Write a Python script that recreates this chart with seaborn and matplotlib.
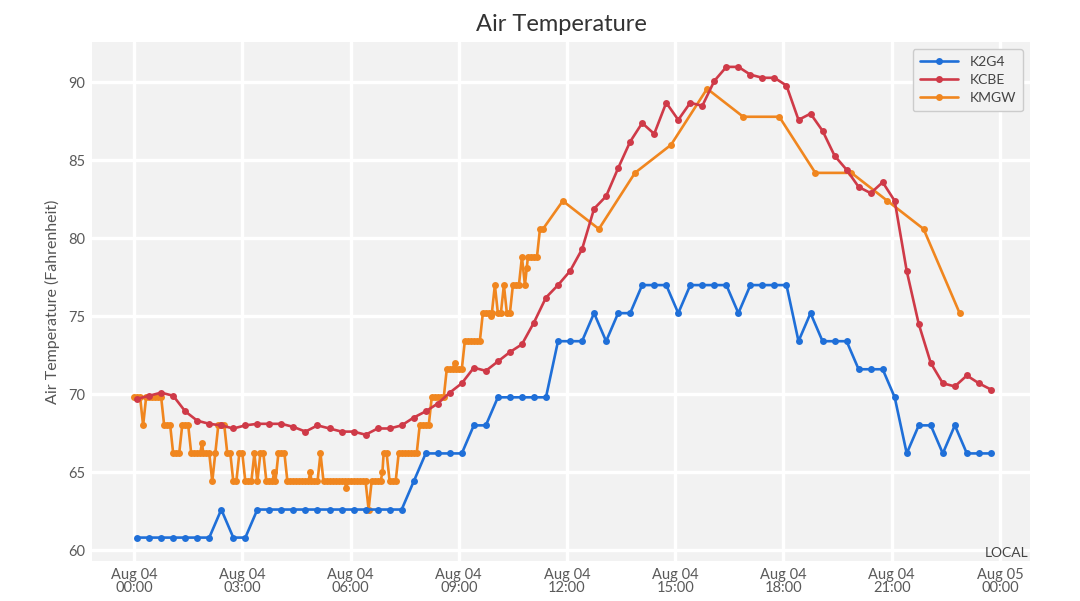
import numpy as np
import pandas as pd
import matplotlib
matplotlib.use("Agg")
import matplotlib.pyplot as plt
import matplotlib.dates as mdates
import seaborn as sns

# ---------------- data ----------------
stations = ["K2G4", "KCBE", "KMGW"]
colors = {"K2G4": "#1f6fd8", "KCBE": "#cf3a48", "KMGW": "#f0861f"}

# K2G4 and KCBE: every 20 minutes from 00:05 to 23:45
k2g4_temps = [
    60.8, 60.8, 60.8, 60.8, 60.8, 60.8, 60.8, 62.6, 60.8, 60.8, 62.6, 62.6,
    62.6, 62.6, 62.6, 62.6, 62.6, 62.6, 62.6, 62.6, 62.6, 62.6, 62.6, 64.4,
    66.2, 66.2, 66.2, 66.2, 68.0, 68.0, 69.8, 69.8, 69.8, 69.8, 69.8, 73.4,
    73.4, 73.4, 75.2, 73.4, 75.2, 75.2, 77.0, 77.0, 77.0, 75.2, 77.0, 77.0,
    77.0, 77.0, 75.2, 77.0, 77.0, 77.0, 77.0, 73.4, 75.2, 73.4, 73.4, 73.4,
    71.6, 71.6, 71.6, 69.8, 66.2, 68.0, 68.0, 66.2, 68.0, 66.2, 66.2, 66.2,
]
kcbe_temps = [
    69.7, 69.9, 70.1, 69.9, 68.9, 68.3, 68.1, 68.0, 67.8, 68.0, 68.1, 68.1,
    68.1, 67.9, 67.6, 68.0, 67.8, 67.6, 67.6, 67.4, 67.8, 67.8, 68.0, 68.5,
    68.9, 69.4, 70.1, 70.7, 71.7, 71.5, 72.1, 72.7, 73.2, 74.6, 76.2, 77.0,
    77.9, 79.3, 81.9, 82.7, 84.5, 86.2, 87.4, 86.7, 88.7, 87.6, 88.7, 88.5,
    90.1, 91.0, 91.0, 90.5, 90.3, 90.3, 89.8, 87.6, 88.0, 86.9, 85.3, 84.4,
    83.3, 82.9, 83.6, 82.4, 77.9, 74.5, 72.0, 70.7, 70.5, 71.2, 70.7, 70.3,
]

# KMGW: 5-minute observations 00:00 - 11:20
kmgw_5min_temps = [
    69.8, 69.8, 69.8, 68.0, 69.8, 69.8, 69.8, 69.8, 69.8, 69.8, 68.0, 68.0,   # 00:00-00:55
    68.0, 66.2, 66.2, 66.2, 68.0, 68.0, 68.0, 66.2, 66.2, 66.2, 66.2, 66.2,   # 01:00-01:55
    66.2, 66.2, 64.4, 66.2, 68.0, 68.0, 68.0, 66.2, 66.2, 64.4, 64.4, 66.2,   # 02:00-02:55
    66.2, 64.4, 64.4, 64.4, 66.2, 64.4, 66.2, 66.2, 64.4, 64.4, 64.4, 64.4,   # 03:00-03:55
    66.2, 66.2, 66.2, 64.4, 64.4, 64.4, 64.4, 64.4, 64.4, 64.4, 64.4, 64.4,   # 04:00-04:55
    64.4, 64.4, 66.2, 64.4, 64.4, 64.4, 64.4, 64.4, 64.4, 64.4, 64.4, 64.4,   # 05:00-05:55
    64.4, 64.4, 64.4, 64.4, 64.4, 64.4, 62.6, 64.4, 64.4, 64.4, 64.4, 66.2,   # 06:00-06:55
    66.2, 64.4, 64.4, 64.4, 66.2, 66.2, 66.2, 66.2, 66.2, 66.2, 66.2, 68.0,   # 07:00-07:55
    68.0, 68.0, 68.0, 69.8, 69.8, 69.8, 69.8, 69.8, 71.6, 71.6, 71.6, 71.6,   # 08:00-08:55
    71.6, 71.6, 73.4, 73.4, 73.4, 73.4, 73.4, 73.4, 75.2, 75.2, 75.2, 75.2,   # 09:00-09:55
    77.0, 75.2, 75.2, 77.0, 75.2, 75.2, 77.0, 77.0, 77.0, 78.8, 77.0, 78.8,   # 10:00-10:55
    78.8, 78.8, 78.8, 80.6, 80.6,                                             # 11:00-11:20
]
# KMGW: hourly reports at :53
kmgw_hourly_times = [
    "01:53", "03:53", "04:53", "05:53", "06:53", "08:53", "09:53", "10:53",
    "11:53", "12:53", "13:53", "14:53", "15:53", "16:53", "17:53", "18:53",
    "19:53", "20:53", "21:53", "22:53",
]
kmgw_hourly_temps = [
    66.9, 65.0, 65.0, 64.0, 65.0, 72.0, 75.0, 78.1,
    82.4, 80.6, 84.2, 86.0, 89.6, 87.8, 87.8, 84.2,
    84.2, 82.4, 80.6, 75.2,
]

day = "2024-08-04"
times_20 = pd.date_range(f"{day} 00:05", periods=len(k2g4_temps), freq="20min")
times_5 = pd.date_range(f"{day} 00:00", periods=len(kmgw_5min_temps), freq="5min")
times_h = pd.to_datetime([f"{day} {t}" for t in kmgw_hourly_times])

df = pd.concat([
    pd.DataFrame({"time": times_20, "temp": k2g4_temps, "station": "K2G4"}),
    pd.DataFrame({"time": times_20, "temp": kcbe_temps, "station": "KCBE"}),
    pd.DataFrame({"time": np.concatenate([times_5.values, times_h.values]),
                  "temp": kmgw_5min_temps + kmgw_hourly_temps, "station": "KMGW"}),
], ignore_index=True).sort_values(["station", "time"])

# ---------------- style ----------------
sns.set_theme(style="darkgrid", rc={
    "axes.facecolor": "#f2f2f2",
    "figure.facecolor": "white",
    "grid.color": "white",
    "grid.linewidth": 2.4,
    "axes.edgecolor": "#f2f2f2",
})
plt.rcParams["font.family"] = ["Lato", "DejaVu Sans"]

fig = plt.figure(figsize=(10.8, 6.01), dpi=100)
ax = fig.add_axes([0.0852, 0.0666, 0.8685, 0.8636])

for st, z in [("KMGW", 3), ("KCBE", 4), ("K2G4", 5)]:
    sns.lineplot(data=df[df["station"] == st], x="time", y="temp", ax=ax,
                 color=colors[st], label=st, marker="o", markersize=5,
                 markeredgewidth=0, linewidth=1.9, estimator=None, sort=True,
                 zorder=z)

ax.set_xlim(pd.Timestamp("2024-08-03 22:50"), pd.Timestamp("2024-08-05 00:50"))
ax.set_ylim(59.3, 92.6)
ax.set_yticks([60, 65, 70, 75, 80, 85, 90])
ax.xaxis.set_major_locator(mdates.HourLocator(byhour=range(0, 24, 3)))
ax.xaxis.set_major_formatter(mdates.DateFormatter("%b %d\n%H:%M"))
ax.tick_params(axis="both", colors="#5a5a5a", labelsize=10.5, length=0, pad=5)
for lab in ax.get_xticklabels():
    lab.set_linespacing(0.95)

ax.set_xlabel("")
ax.set_ylabel("Air Temperature (Fahrenheit)", fontsize=11.5, color="#555555", labelpad=6)
ax.set_title("Air Temperature", fontsize=17, color="#333333", pad=8)
for s in ax.spines.values():
    s.set_visible(False)

ax.text(0.998, 0.004, "LOCAL", transform=ax.transAxes, ha="right", va="bottom",
        fontsize=10, color="#444444")

handles, labels = ax.get_legend_handles_labels()
order = [labels.index(s) for s in stations]
leg = ax.legend([handles[i] for i in order], [labels[i] for i in order],
                loc="upper right", fontsize=10, frameon=True, facecolor="#f2f2f2",
                edgecolor="#cccccc", framealpha=1, borderpad=0.5,
                handlelength=2.8, labelspacing=0.45)
for t in leg.get_texts():
    t.set_color("#444444")

fig.savefig("out.png", dpi=100)
